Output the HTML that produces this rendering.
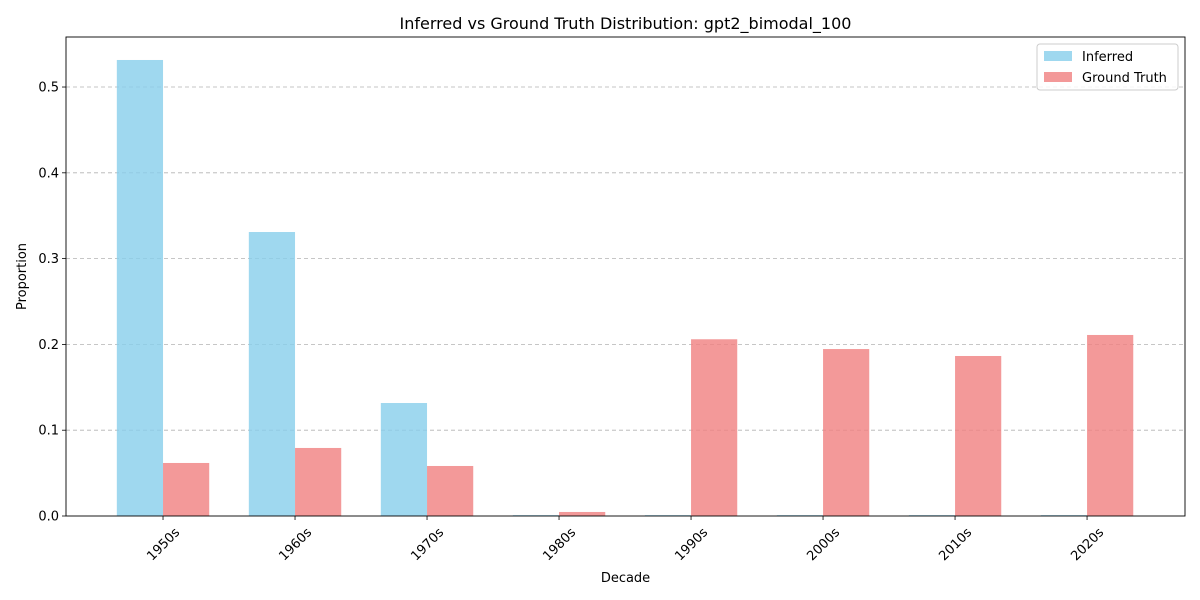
<!DOCTYPE html>
<html><head><meta charset="utf-8"><style>
body{margin:0;background:#fff;}
svg{display:block;font-family:"DejaVu Sans","Liberation Sans",sans-serif;}
</style></head><body>
<svg id="chart" width="1200" height="600"></svg>
<script>
const categories=["1950s","1960s","1970s","1980s","1990s","2000s","2010s","2020s"];
const inferred=[0.5315,0.331,0.1317,0.001,0.001,0.001,0.001,0.001];
const groundTruth=[0.0618,0.0793,0.0583,0.0047,0.206,0.1946,0.1865,0.211];
const yTicks=[0,0.1,0.2,0.3,0.4,0.5];
const yTickLabels=["0.0","0.1","0.2","0.3","0.4","0.5"];

const L=66,R=1185,T=37,B=516;
const xmin=-0.735,xmax=7.742,ymax=0.5583;
const NS="http://www.w3.org/2000/svg";
const svg=document.getElementById('chart');
function X(v){return L+(v-xmin)/(xmax-xmin)*(R-L);}
function Y(v){return B-v/ymax*(B-T);}
function el(tag,attrs,parent){const e=document.createElementNS(NS,tag);for(const k in attrs)e.setAttribute(k,attrs[k]);(parent||svg).appendChild(e);return e;}

yTicks.forEach((t,i)=>{
  if(t>0){const g=el('line',{x1:L,x2:R,y1:Y(t),y2:Y(t),stroke:'#a0a0a0','stroke-width':0.8,'stroke-dasharray':'4,3',opacity:0.8});
  
  }
});
const w=0.35;
categories.forEach((c,i)=>{
  const a=el('rect',{x:X(i-w),y:Y(inferred[i]),width:X(w)-X(0),height:B-Y(inferred[i]),fill:'#87ceeb','fill-opacity':0.8});
  
  
  const b=el('rect',{x:X(i),y:Y(groundTruth[i]),width:X(w)-X(0),height:B-Y(groundTruth[i]),fill:'#f08080','fill-opacity':0.8});
  
  
  const tk=el('line',{x1:X(i),x2:X(i),y1:B,y2:B+4,stroke:'#000','stroke-width':0.8});
  
  
  const tx=el('text',{x:0,y:4.5,'font-size':13,'text-anchor':'middle',transform:`translate(${X(i)},${B+28}) rotate(-45)`});
  tx.textContent=c;
  
  
});
yTicks.forEach((t,i)=>{
  const tk=el('line',{x1:L-4,x2:L,y1:Y(t),y2:Y(t),stroke:'#000','stroke-width':0.8});
  
  
  const tx=el('text',{x:L-7,y:Y(t)+4.5,'font-size':13,'text-anchor':'end'});
  tx.textContent=yTickLabels[i];
  
  
});
const frame=el('rect',{x:L,y:T,width:R-L,height:B-T,fill:'none',stroke:'#000','stroke-width':0.9});


const title=el('text',{x:(L+R)/2,y:29,'font-size':16,'text-anchor':'middle'});
title.textContent='Inferred vs Ground Truth Distribution: gpt2_bimodal_100';


const xl=el('text',{x:(L+R)/2,y:582,'font-size':13,'text-anchor':'middle'});
xl.textContent='Decade';


const yl=el('text',{x:0,y:0,'font-size':13,'text-anchor':'middle',transform:`translate(26,${(T+B)/2}) rotate(-90)`});
yl.textContent='Proportion';


const lg=el('g',{});


el('rect',{x:1037,y:44,width:141,height:46,rx:3,fill:'#fff','fill-opacity':0.8,stroke:'#ccc'},lg);
const s1=el('rect',{x:1044,y:51,width:28,height:10,fill:'#87ceeb','fill-opacity':0.8},lg);


const t1=el('text',{x:1082,y:61,'font-size':13},lg);t1.textContent='Inferred';
const s2=el('rect',{x:1044,y:72,width:28,height:10,fill:'#f08080','fill-opacity':0.8},lg);


const t2=el('text',{x:1082,y:82,'font-size':13},lg);t2.textContent='Ground Truth';
</script>
</body></html>
